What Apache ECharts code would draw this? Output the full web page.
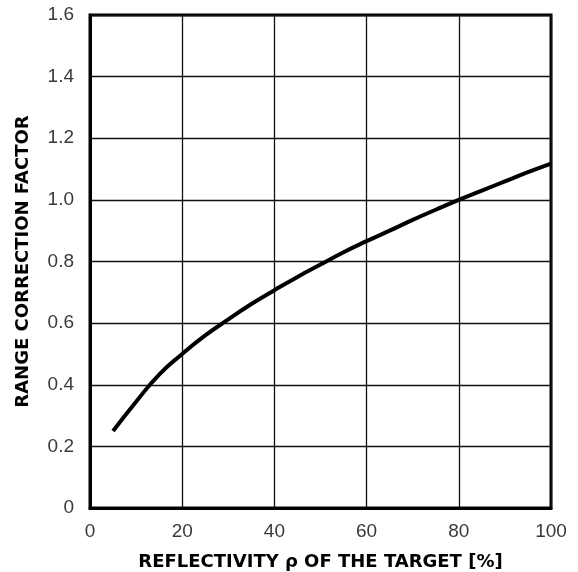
<!DOCTYPE html>
<html>
<head>
<meta charset="utf-8">
<script src="https://cdn.jsdelivr.net/npm/echarts@6/dist/echarts.min.js"></script>
<style>
  html, body { margin: 0; padding: 0; background: #fff; }
  #chart { width: 578px; height: 572px; }
</style>
</head>
<body>
<div id="chart"></div>
<script>
// reflectivity [%] -> range correction factor
const reflectivity = [5, 10, 15, 20, 25, 30, 35, 40, 45, 50, 55, 60, 65, 70, 75, 80, 85, 90, 95, 100]
const factor = [0.25, 0.345, 0.433, 0.5, 0.56, 0.612, 0.662, 0.707, 0.75, 0.79, 0.83, 0.866, 0.90, 0.935, 0.968, 1.0, 1.03, 1.06, 1.09, 1.118]

const xTicks = ['0', '20', '40', '60', '80', '100']
const yTicks = ['0', '0.2', '0.4', '0.6', '0.8', '1.0', '1.2', '1.4', '1.6']

const chart = echarts.init(document.getElementById('chart'))

const labelStyle = {
  color: '#3a3a3a',
  fontFamily: 'Liberation Sans, Arial, sans-serif',
  fontSize: 19
}
const nameStyle = {
  color: '#000',
  fontFamily: 'DejaVu Sans, Verdana, sans-serif',
  fontWeight: 'bold',
  fontSize: 18
}

chart.setOption({
  animation: false,
  grid: {
    left: 90,
    right: 27,
    top: 15,
    bottom: 64,
    outerBoundsMode: 'none',
    show: true,
    borderColor: '#000',
    borderWidth: 3,
    backgroundColor: '#fff'
  },
  xAxis: {
    type: 'value',
    min: 0,
    max: 100,
    interval: 20,
    name: 'REFLECTIVITY ρ OF THE TARGET [%]',
    nameLocation: 'middle',
    nameGap: 45,
    nameTextStyle: nameStyle,
    axisLine: { show: true, lineStyle: { color: '#000', width: 3 } },
    axisTick: { show: false },
    axisLabel: Object.assign({
      margin: 14,
      formatter: v => xTicks[Math.round(v / 20)]
    }, labelStyle),
    splitLine: { show: true, lineStyle: { color: '#111', width: 1.3 } }
  },
  yAxis: {
    type: 'value',
    min: 0,
    max: 1.6,
    interval: 0.2,
    name: 'RANGE CORRECTION FACTOR',
    nameLocation: 'middle',
    nameRotate: 90,
    nameGap: 58,
    nameTextStyle: nameStyle,
    axisLine: { show: true, lineStyle: { color: '#000', width: 3 } },
    axisTick: { show: false },
    axisLabel: Object.assign({
      margin: 16,
      formatter: v => yTicks[Math.round(v / 0.2)]
    }, labelStyle),
    splitLine: { show: true, lineStyle: { color: '#111', width: 1.3 } }
  },
  series: [
    {
      type: 'line',
      data: reflectivity.map((x, i) => [x, factor[i]]),
      smooth: true,
      showSymbol: false,
      lineStyle: { color: '#000', width: 4 }
    }
  ]
})
</script>
</body>
</html>
